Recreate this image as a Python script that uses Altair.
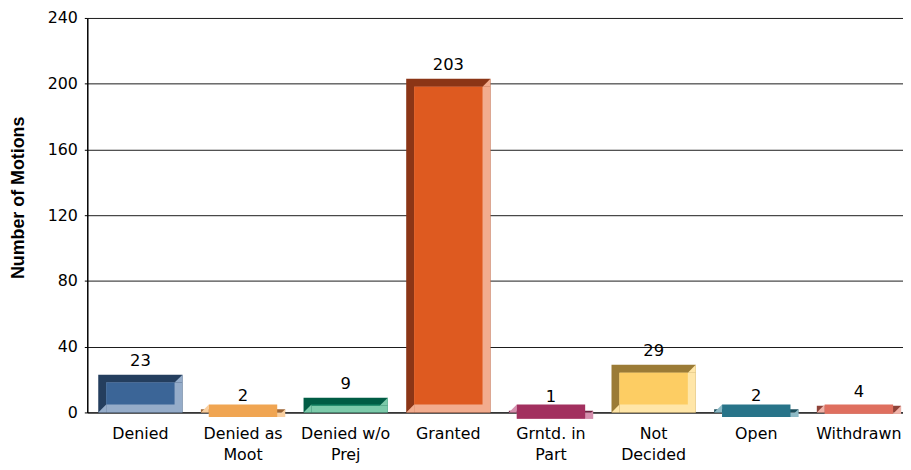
import altair as alt
import pandas as pd

categories = ["Denied", "Denied as\nMoot", "Denied w/o\nPrej", "Granted",
              "Grntd. in\nPart", "Not\nDecided", "Open", "Withdrawn"]
values = [23, 2, 9, 203, 1, 29, 2, 4]
y_ticks = [0, 40, 80, 120, 160, 200, 240]

face_colors = ["#3B6597", "#F0A552", "#138A68", "#DE5A20", "#A2305F", "#FDCD63", "#287489", "#DF6F5F"]
dark_colors = ["#243E5E", "#9C6434", "#005C44", "#8B3516", "#6E1F40", "#9B7B36", "#1B4E5C", "#8E4238"]
light_colors = ["#95ACC9", "#F9CFA0", "#7CCAAA", "#F2AC8E", "#D58FAE", "#FFE6A8", "#8DBAC6", "#F0B3A9"]

df = pd.DataFrame({"category": categories, "value": values, "zero": [0] * len(values)})

B = 8      # bevel width in px
BW = 85    # bar width in px
FONT = "DejaVu Sans"

xs = alt.Scale(domain=categories, range=[0, 823], paddingInner=0.179,
               paddingOuter=0.0627, align=0.85)
ys = alt.Scale(domain=[0, 240], nice=False, zero=True)

x_axis = alt.Axis(title=None, labelExpr="split(datum.value, '\\n')", labelAngle=0,
                  ticks=False, domain=True, domainColor="#000", domainWidth=1,
                  grid=False, labelFont=FONT, labelFontSize=16, labelColor="#000",
                  labelPadding=13, labelLineHeight=21, labelBaseline="top")
y_axis = alt.Axis(values=y_ticks, title="Number of Motions", grid=True,
                  gridColor="#1a1a1a", gridWidth=1, domainColor="#000", domainWidth=1.5,
                  tickSize=3, tickColor="#000", labelPadding=7, labelFont=FONT,
                  labelFontSize=16, labelColor="#000",
                  titleX=-69, titleY=181, titleAngle=270, titleAlign="center",
                  titleBaseline="middle", titleFont="Liberation Sans",
                  titleFontWeight="bold", titleFontSize=18, titleColor="#000")

base = alt.Chart(df)
X = alt.X("category:N", scale=xs, sort=categories, axis=x_axis)
Y = alt.Y("value:Q", scale=ys, axis=y_axis)
Yz = alt.Y("zero:Q", scale=ys, axis=y_axis)

def col(rng):
    return alt.Color("category:N", scale=alt.Scale(domain=categories, range=rng), legend=None)

dark = base.mark_bar(size=BW).encode(x=X, y=Y, y2="zero", color=col(dark_colors))
light = base.mark_bar(size=BW - B, xOffset=B / 2, yOffset=B).encode(
    x=X, y=Y, y2="zero", color=col(light_colors))
tri_tr = base.mark_point(shape="M1,-1L1,1L-1,1Z", size=B * B, filled=True, opacity=1,
                         strokeWidth=0, xOffset=BW / 2 - B / 2, yOffset=B / 2).encode(
    x=X, y=Y, color=col(light_colors))
tri_bl = base.mark_point(shape="M-1,1L1,1L1,-1Z", size=B * B, filled=True, opacity=1,
                         strokeWidth=0, xOffset=-(BW / 2 - B / 2), yOffset=-B / 2).encode(
    x=X, y=Yz, color=col(light_colors))
face = base.mark_bar(size=BW - 2 * B, yOffset=B, y2Offset=-B).encode(
    x=X, y=Y, y2="zero", color=col(face_colors))
labels = base.mark_text(dy=-8.5, baseline="alphabetic", fontSize=16.5, font=FONT,
                        color="#000").encode(x=X, y=Y, text="value:Q")

chart = alt.layer(dark, light, tri_tr, tri_bl, face, labels).resolve_scale(
    color="independent"
).properties(
    width=823, height=398,
    padding={"left": 80, "top": 8, "right": 0, "bottom": 52},
    autosize=alt.AutoSizeParams(type="none"),
).configure_view(stroke=None)

chart.save("out.html", embed_options={"renderer": "svg", "actions": False})
